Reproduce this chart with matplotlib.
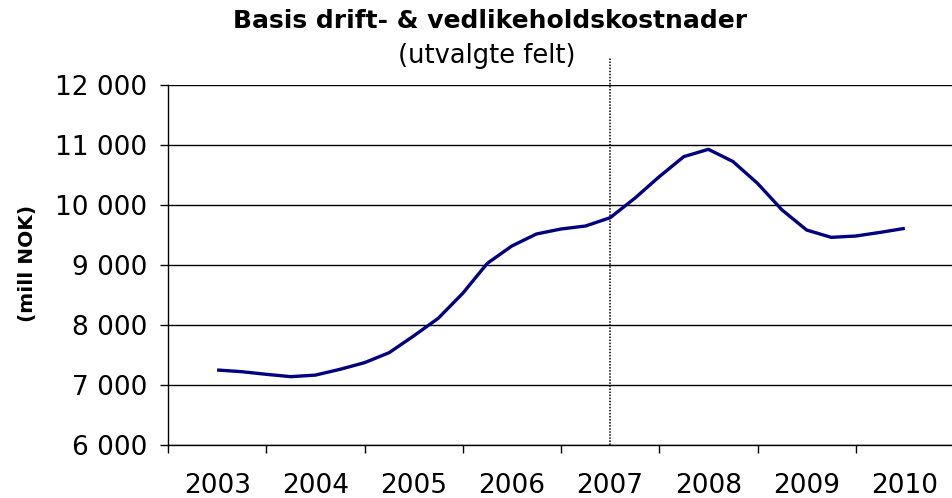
import numpy as np
import matplotlib.pyplot as plt

# Kvartalsvise verdier (mill NOK), lest av figuren
aar = ['2003', '2004', '2005', '2006', '2007', '2008', '2009', '2010']
kvartal_pos = np.arange(0.5, 7.51, 0.25)
kostnader = [7250, 7222, 7178, 7139, 7165, 7261, 7372, 7538,
             7817, 8111, 8528, 9028, 9317, 9517, 9600, 9650,
             9788, 10111, 10472, 10806, 10928, 10725, 10361, 9917,
             9583, 9461, 9483, 9544, 9611]
y_ticks = [6000, 7000, 8000, 9000, 10000, 11000, 12000]
skille_pos = 4.5  # midt i 2007

fig = plt.figure(figsize=(9.52, 4.98), dpi=100)
ax = fig.add_axes([168 / 952, 1 - 445 / 498, 786 / 952, 360 / 498])

ax.plot(kvartal_pos, kostnader, color='#000080', lw=2.4, solid_joinstyle='round',
        solid_capstyle='butt', zorder=3)

ax.set_xlim(0, 8)
ax.set_ylim(6000, 12000)

# horisontale linjer
for v in y_ticks:
    ax.axhline(v, color='black', lw=1, zorder=1)

# stiplet skillelinje, går litt over plottet
ax.axvline(skille_pos, ymin=0, ymax=(445 - 57) / 360, color='black', lw=1.1,
           linestyle=(0, (1, 1)), clip_on=False, zorder=2)

ax.set_yticks(y_ticks)
ax.set_yticklabels([f'{v:,}'.replace(',', ' ') for v in y_ticks])
ax.set_xticks(range(9))
ax.set_xticklabels([])
ax.set_xticks(np.arange(0.5, 8, 1), minor=True)
ax.set_xticklabels(aar, minor=True)

ax.tick_params(axis='y', direction='out', length=5.8, width=1, pad=9, labelsize=19)
ax.tick_params(axis='x', which='major', direction='out', length=5.8, width=1)
ax.tick_params(axis='x', which='minor', length=0, pad=20, labelsize=19)

for s in ['top', 'right']:
    ax.spines[s].set_visible(False)
for s in ['left', 'bottom']:
    ax.spines[s].set_linewidth(1)
    ax.spines[s].set_color('black')

fig.text(490 / 952, 1 - 21 / 498, 'Basis drift- & vedlikeholdskostnader', ha='center',
         va='center', fontsize=18, fontweight='bold')
fig.text(487 / 952, 1 - 56 / 498, '(utvalgte felt)', ha='center', va='center', fontsize=18.5)
fig.text(27 / 952, 1 - 263 / 498, '(mill NOK)', ha='center', va='center', rotation=90,
         fontsize=14.5, fontweight='bold')

fig.savefig('out.png', dpi=100)
